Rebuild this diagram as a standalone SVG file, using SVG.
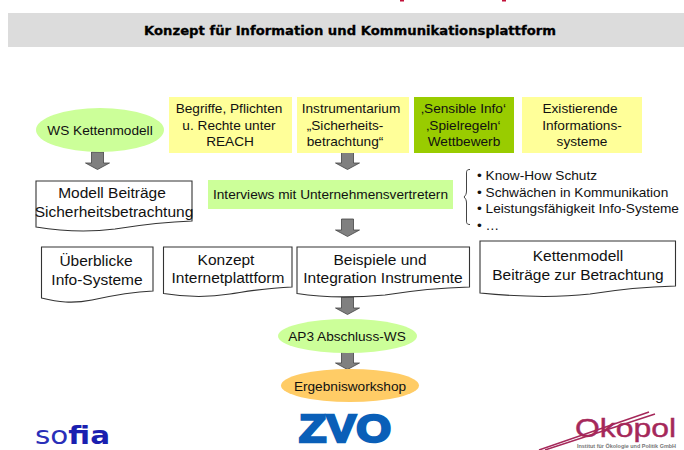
<svg xmlns="http://www.w3.org/2000/svg" width="684" height="450" viewBox="0 0 684 450">
<style>
text{font-family:"Liberation Sans",Arial,sans-serif;fill:#111;text-anchor:middle}
.s14{font-size:13.650px}.s16{font-size:15.500px}
.l{text-anchor:start}
.doc{fill:#fff;stroke:#333;stroke-width:1.1}
.arrow{fill:#808080;stroke:#444;stroke-width:.8}
</style>
<defs><path id="arr" d="M-6 0H6V11H12L0 17.500L-12 11H-6Z"/></defs>
<rect width="684" height="450" fill="#fff"/>
<g id="marks" fill="#c2113a"><rect x="400" y="0" width="4" height="1.500"/><rect x="502" y="0" width="4" height="1.500"/></g>
<g id="title"><rect x="8" y="13" width="676" height="34" fill="#dcdcdc"/>
<text x="350" y="35" style="font-family:'DejaVu Sans',sans-serif;font-weight:bold;font-size:12.500px;fill:#000;stroke:#000;stroke-width:.3" textLength="412" lengthAdjust="spacingAndGlyphs">Konzept für Information und Kommunikationsplattform</text></g>
<g id="connectors">
<use href="#arr" x="97.500" y="152" class="arrow"/>
<use href="#arr" x="347.500" y="152" class="arrow"/>
<use href="#arr" x="347.500" y="219" class="arrow"/>
<use href="#arr" x="347.500" y="297" class="arrow"/>
<use href="#arr" x="347.500" y="352" class="arrow"/>
</g>
<g id="ws"><ellipse cx="100" cy="130" rx="64" ry="22" fill="#ccff99"/><text x="100" y="135" class="s14">WS Kettenmodell</text></g>
<g id="begriffe"><rect x="169" y="97" width="123" height="56" fill="#ffff99"/><text class="s14"><tspan x="229" y="113">Begriffe, Pflichten</tspan><tspan x="229" y="129.500">u. Rechte unter</tspan><tspan x="230" y="146">REACH</tspan></text></g>
<g id="instrumentarium"><rect x="297" y="97" width="112" height="56" fill="#ffff99"/><text class="s14"><tspan x="351" y="113">Instrumentarium</tspan><tspan x="345" y="129.500">„Sicherheits-</tspan><tspan x="345" y="146">betrachtung“</tspan></text></g>
<g id="sensible"><rect x="414" y="97" width="100" height="56" fill="#99cc00"/><text class="s14"><tspan x="463.500" y="113">‚Sensible Info‘</tspan><tspan x="463.500" y="129.500">‚Spielregeln‘</tspan><tspan x="464" y="146">Wettbewerb</tspan></text></g>
<g id="existierende"><rect x="522" y="97" width="120" height="56" fill="#ffff99"/><text class="s14"><tspan x="580" y="113">Existierende</tspan><tspan x="582" y="129.500">Informations-</tspan><tspan x="582" y="146">systeme</tspan></text></g>
<g id="modell"><path class="doc" d="M36 181H192V221C160 222 140 225 115 229C85 233 60 231 36 227Z"/><text class="s16"><tspan x="112" y="198">Modell Beiträge</tspan><tspan x="114" y="217">Sicherheitsbetrachtung</tspan></text></g>
<g id="interviews"><rect x="208" y="180" width="245" height="29" fill="#ccff99"/><text x="330.500" y="199" class="s14">Interviews mit Unternehmensvertretern</text></g>
<g id="liste"><path d="M470 169.500C466.500 169.500 466.500 171 466.500 174V191C466.500 194 465.500 195.500 464 197C465.500 198.500 466.500 200 466.500 203V220C466.500 223 466.500 224.500 470 224.500" fill="none" stroke="#444" stroke-width="1"/>
<text class="s14 l"><tspan x="477" y="180">• Know-How Schutz</tspan><tspan x="477" y="197">• Schwächen in Kommunikation</tspan><tspan x="477" y="213">• Leistungsfähigkeit Info-Systeme</tspan><tspan x="477" y="230">• …</tspan></text></g>
<g id="ueberblicke"><path class="doc" d="M41.500 247H153V291C130 292 110 296 92 300C72 304 58 302 41.500 298Z"/><text class="s16"><tspan x="96" y="266">Überblicke</tspan><tspan x="97" y="285">Info-Systeme</tspan></text></g>
<g id="konzept"><path class="doc" d="M163.500 247H292V287C265 288 250 291 230 294C205 298 185 297 163.500 293.500Z"/><text class="s16"><tspan x="226" y="265">Konzept</tspan><tspan x="228" y="283">Internetplattform</tspan></text></g>
<g id="beispiele"><path class="doc" d="M297 247H469.500V287C435 288 410 291 385 295C350 298 325 298 297 293.500Z"/><text class="s16"><tspan x="380" y="265">Beispiele und</tspan><tspan x="383" y="283">Integration Instrumente</tspan></text></g>
<g id="kettenmodell"><path class="doc" d="M480 241H675.500V286C640 287 615 290 590 294C555 298 520 297 480 293Z"/><text class="s16"><tspan x="578" y="261">Kettenmodell</tspan><tspan x="578" y="280">Beiträge zur Betrachtung</tspan></text></g>
<g id="ap3"><ellipse cx="347.500" cy="336" rx="69.500" ry="17" fill="#ccff99"/><text x="347" y="341" class="s14">AP3 Abschluss-WS</text></g>
<g id="ergebnis"><ellipse cx="350" cy="385.500" rx="69" ry="16.500" fill="#ffcc66"/><text x="350" y="391" class="s14">Ergebnisworkshop</text></g>
<g id="logo-sofia"><text x="35" y="444" class="l" style="font-family:'DejaVu Sans',sans-serif;font-size:24px;fill:#2a2fb8" textLength="75" lengthAdjust="spacingAndGlyphs">so<tspan style="font-weight:bold;fill:#1a1fb0">fia</tspan></text></g>
<g id="logo-zvo"><text x="345" y="441.500" style="font-size:38px;font-weight:bold;fill:#0a5fb8;stroke:#0a5fb8;stroke-width:2.500" textLength="92" lengthAdjust="spacingAndGlyphs">ZVO</text></g>
<g id="logo-oekopol"><path d="M539 450L649 412M545 450L655 414" stroke="#a5285a" stroke-width="1.500" fill="none"/>
<text x="575" y="437" class="l" style="font-size:25px;fill:#a5285a;stroke:#a5285a;stroke-width:.4" textLength="101" lengthAdjust="spacingAndGlyphs">Okopol</text>
<text x="577" y="448" class="l" style="font-size:5px;font-weight:bold;fill:#777" textLength="99" lengthAdjust="spacingAndGlyphs">Institut für Ökologie und Politik GmbH</text></g>
</svg>
